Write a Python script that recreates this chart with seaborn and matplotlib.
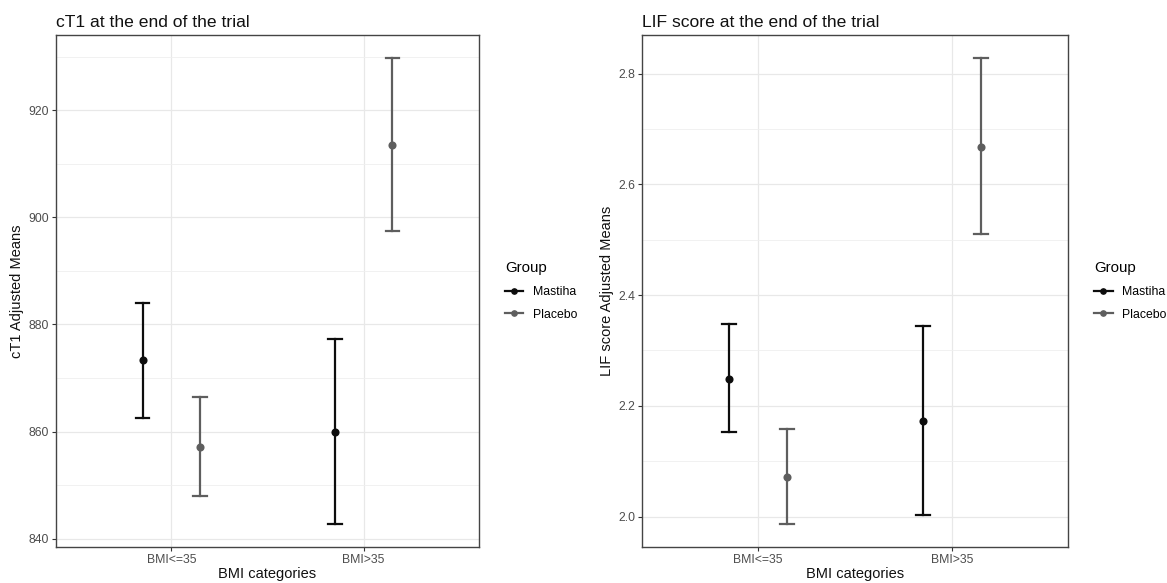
import numpy as np
import pandas as pd
import matplotlib
matplotlib.use("Agg")
import matplotlib.pyplot as plt
from matplotlib.lines import Line2D
from matplotlib.ticker import MultipleLocator
import seaborn as sns

# ---------------- data ----------------
categories = ["BMI<=35", "BMI>35"]
groups = ["Mastiha", "Placebo"]

# cT1 adjusted means with CI (per group, per category)
ct1_mean = {"Mastiha": [873.3, 860.0], "Placebo": [857.1, 913.6]}
ct1_low = {"Mastiha": [862.6, 842.8], "Placebo": [847.9, 897.4]}
ct1_high = {"Mastiha": [884.1, 877.2], "Placebo": [866.5, 929.7]}

# LIF score adjusted means with CI
lif_mean = {"Mastiha": [2.249, 2.173], "Placebo": [2.072, 2.668]}
lif_low = {"Mastiha": [2.152, 2.002], "Placebo": [1.987, 2.510]}
lif_high = {"Mastiha": [2.347, 2.344], "Placebo": [2.158, 2.828]}

palette = {"Mastiha": "#0d0d0d", "Placebo": "#5e5e5e"}


def long_frame(mean, low, high):
    rows = []
    for g in groups:
        for i, c in enumerate(categories):
            for v in (low[g][i], mean[g][i], high[g][i]):
                rows.append({"BMI": c, "Group": g, "value": v})
    return pd.DataFrame(rows)


plt.rcParams["font.family"] = ["Liberation Sans", "DejaVu Sans"]

fig = plt.figure(figsize=(11.67, 5.83), dpi=100)
ax1 = fig.add_axes([56 / 1167, 36 / 583, 423 / 1167, 512 / 583])
ax2 = fig.add_axes([642 / 1167, 36 / 583, 426 / 1167, 512 / 583])

panels = [
    (ax1, long_frame(ct1_mean, ct1_low, ct1_high), "cT1 at the end of the trial",
     "cT1 Adjusted Means", 20, 10),
    (ax2, long_frame(lif_mean, lif_low, lif_high), "LIF score at the end of the trial",
     "LIF score Adjusted Means", 0.2, 0.1),
]

for ax, df, title, ylabel, major, minor in panels:
    ax.set_axisbelow(True)
    sns.pointplot(
        data=df, x="BMI", y="value", hue="Group", order=categories,
        hue_order=groups, palette=palette, estimator="median",
        errorbar=("pi", 100), dodge=0.3, capsize=0.072, linestyle="none",
        markers="o", markersize=3.8, err_kws={"linewidth": 1.6},
        ax=ax, legend=False,
    )
    ax.set_xlim(-0.6, 1.6)
    ax.yaxis.set_major_locator(MultipleLocator(major))
    ax.yaxis.set_minor_locator(MultipleLocator(minor))
    ax.grid(which="major", axis="both", color="#e8e8e8", linewidth=0.9)
    ax.grid(which="minor", axis="y", color="#efefef", linewidth=0.6)
    ax.tick_params(axis="y", which="minor", length=0)
    ax.tick_params(axis="both", which="major", length=3, width=0.8,
                   color="#333333", labelsize=8.8, labelcolor="#4d4d4d", pad=2)
    for s in ax.spines.values():
        s.set_color("#444444")
        s.set_linewidth(1.0)
    ax.set_title(title, loc="left", fontsize=12.6, pad=6, color="#111111")
    ax.set_xlabel("BMI categories", fontsize=10.5, labelpad=1, color="#111111")
    ax.set_ylabel(ylabel, fontsize=10.5, labelpad=3, color="#111111")
    handles = [Line2D([0], [0], color=palette[g], marker="o", markersize=3.8,
                      linewidth=1.6) for g in groups]
    leg = ax.legend(handles, groups, title="Group", loc="center left",
                    bbox_to_anchor=(1.05, 0.5), frameon=False, fontsize=8.8,
                    title_fontsize=10.8, handlelength=1.5, handletextpad=0.8,
                    labelspacing=0.85, borderaxespad=0)
    leg._legend_box.align = "left"
    leg._legend_box.sep = 8

fig.savefig("out.png", dpi=100)
